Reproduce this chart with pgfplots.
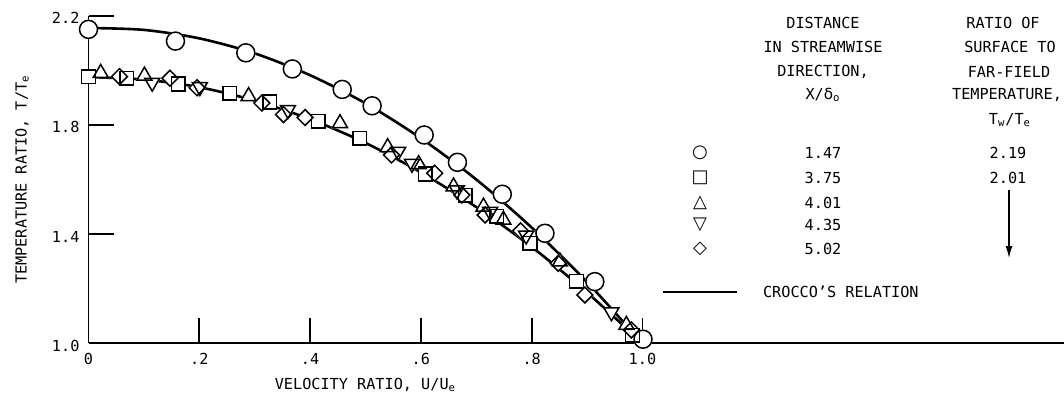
\documentclass[border=0pt]{standalone}
\usepackage{fontspec}
\setmainfont{DejaVu Sans Mono}
\newfontfamily\symfont{DejaVu Sans}
\usepackage{pgfplots}
\pgfplotsset{compat=1.18}
\usepackage{pgfplotstable}
\usetikzlibrary{arrows.meta}

% T/Te against U/Ue, x/delta0 = 1.47 (circles)
\pgfplotstableread{
x y
0.000 2.150
0.157 2.107
0.284 2.064
0.368 2.005
0.458 1.930
0.512 1.870
0.606 1.763
0.666 1.663
0.747 1.546
0.824 1.403
0.914 1.226
1.001 1.015
}\circdata
% x/delta0 = 3.75
\pgfplotstableread{
x y
0.000 1.977
0.069 1.971
0.162 1.950
0.255 1.916
0.327 1.884
0.415 1.814
0.490 1.751
0.608 1.620
0.680 1.543
0.737 1.466
0.797 1.366
0.881 1.228
0.982 1.030
}\sqdata
% x/delta0 = 4.01
\pgfplotstableread{
x y
0.022 1.990
0.101 1.980
0.289 1.905
0.454 1.806
0.540 1.718
0.596 1.656
0.659 1.574
0.713 1.500
0.749 1.452
0.851 1.299
0.971 1.067
}\tridata
% x/delta0 = 4.35
\pgfplotstableread{
x y
0.115 1.955
0.201 1.939
0.360 1.855
0.559 1.702
0.584 1.658
0.665 1.561
0.725 1.482
0.790 1.395
0.944 1.114
}\tdndata
% x/delta0 = 5.02
\pgfplotstableread{
x y
0.056 1.977
0.147 1.971
0.196 1.936
0.313 1.880
0.352 1.838
0.391 1.827
0.547 1.690
0.625 1.623
0.674 1.543
0.716 1.470
0.780 1.412
0.848 1.293
0.896 1.177
0.980 1.049
}\diadata
% Crocco's relation, Tw/Te = 2.19 and 2.01
\pgfplotstableread{
x y
0.0 2.155
0.1 2.148
0.2 2.117
0.3 2.062
0.4 1.982
0.5 1.879
0.6 1.751
0.7 1.600
0.8 1.424
0.9 1.224
1.0 1.000
}\croccoA
\pgfplotstableread{
x y
0.0 1.975
0.1 1.966
0.2 1.938
0.3 1.889
0.4 1.821
0.5 1.734
0.6 1.626
0.7 1.499
0.8 1.353
0.9 1.186
1.0 1.000
}\croccoB

\tikzset{
  mk/.style={black,line width=0.75pt},
  wht/.style={draw=white,fill=white,line width=0.75pt},
}

\begin{document}
\begin{tikzpicture}[font=\fontsize{7.6}{9}\selectfont]
\useasboundingbox (0,0) rectangle (532pt,201pt);
\begin{axis}[
  at={(44.25pt,29.35pt)},anchor=south west,
  scale only axis,width=487.75pt,height=163.8pt,
  xmin=0,xmax=1.761,ymin=1,ymax=2.2,
  axis x line*=bottom,axis y line*=left,
  axis line style={line width=0.9pt},
  xtick={0,0.2,0.4,0.6,0.8,1.0},xticklabels={0,.2,.4,.6,.8,1.0},
  ytick={1,1.4,1.8,2.2},yticklabels={1.0,1.4,1.8,2.2},
  tick align=inside,major tick length=12.5pt,
  tick style={line width=0.9pt,black},
  xticklabel style={yshift=-1.5pt},
  yticklabel style={xshift=-1pt,yshift=-1.2pt},
  xlabel={VELOCITY RATIO, U/U\textsubscript{e}},
  ylabel={TEMPERATURE RATIO, T/T\textsubscript{e}},
  every axis x label/.style={at={(axis cs:0.5,0.846)},anchor=center},
  every axis y label/.style={at={(axis cs:-0.12,1.6)},rotate=90,anchor=center},
  clip=false,
]
\addplot[line width=1.3pt,smooth,no markers] table {\croccoA};
\addplot[line width=1.3pt,smooth,no markers] table {\croccoB};
% white backs so the curves do not show through the symbols
\addplot[only marks,mark=*,mark size=4.5pt,mark options={wht}] table {\circdata};
\addplot[only marks,mark=square*,mark size=3.4pt,mark options={wht}] table {\sqdata};
\addplot[only marks,mark=triangle*,mark size=4.3pt,mark options={wht}] table {\tridata};
\addplot[only marks,mark=triangle*,mark size=4.3pt,mark options={wht,rotate=180}] table {\tdndata};
\addplot[only marks,mark=square*,mark size=2.8pt,mark options={wht,rotate=45}] table {\diadata};
% outlines
\addplot[only marks,mark=o,mark size=4.5pt,mark options={mk}] table {\circdata};
\addplot[only marks,mark=square,mark size=3.4pt,mark options={mk}] table {\sqdata};
\addplot[only marks,mark=triangle,mark size=4.3pt,mark options={mk}] table {\tridata};
\addplot[only marks,mark=triangle,mark size=4.3pt,mark options={mk,rotate=180}] table {\tdndata};
\addplot[only marks,mark=square,mark size=2.8pt,mark options={mk,rotate=45}] table {\diadata};
\end{axis}

% key
\node at (411.5pt,189.5pt) {DISTANCE};
\node at (411.5pt,177.5pt) {IN STREAMWISE};
\node at (411.5pt,165pt) {DIRECTION,};
\node at (411.5pt,153.5pt) {X/{\symfont δ}\textsubscript{o}};
\node at (501.5pt,189.5pt) {RATIO OF};
\node at (505pt,177.5pt) {SURFACE TO};
\node at (504.5pt,165pt) {FAR-FIELD};
\node at (503.5pt,153.5pt) {TEMPERATURE,};
\node at (505pt,141pt) {T\textsubscript{w}/T\textsubscript{e}};
\foreach \s/\v/\yy in {○/1.47/124.5,□/3.75/112,△/4.01/99.5,▽/4.35/88.5,◇/5.02/76.5}{
  \node at (350pt,\yy pt) {\symfont\fontsize{9}{9}\selectfont\s};
  \node at (411.5pt,\yy pt) {\v};
}
\node at (504pt,124.5pt) {2.19};
\node at (504pt,112pt) {2.01};
\draw[line width=0.6pt,-{Latex[length=6pt,width=3.5pt]}] (504.5pt,106pt) -- (504.5pt,72pt);
\draw[line width=1.3pt] (331.5pt,55pt) -- (368.5pt,55pt);
\node[anchor=west] at (378pt,55pt) {CROCCO'S RELATION};
\end{tikzpicture}
\end{document}
